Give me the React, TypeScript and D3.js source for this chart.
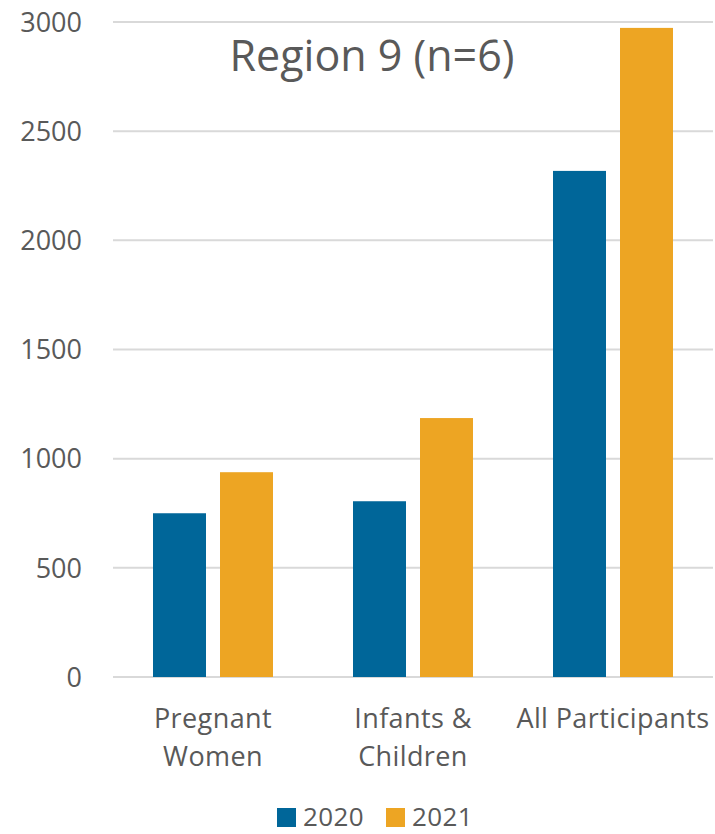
import React from "react";
import * as d3 from "d3";

const categories: string[][] = [["Pregnant", "Women"], ["Infants &", "Children"], ["All Participants"]];
const seriesNames = ["2020", "2021"];
const values2020 = [750, 805, 2318];
const values2021 = [938, 1186, 2973];
const yTicks = [0, 500, 1000, 1500, 2000, 2500, 3000];
const title = "Region 9 (n=6)";

const colors = ["#006699", "#EDA523"];
const textColor = "#595959";
const font = "'Open Sans', sans-serif";

export default function App() {
  const W = 715, H = 834;
  const left = 113, right = 713, top = 22, bottom = 677;
  const x = d3.scaleBand<number>().domain(d3.range(categories.length)).range([left, right]).paddingInner(0).paddingOuter(0);
  const y = d3.scaleLinear().domain([0, 3000]).range([bottom, top]);
  const bw = x.bandwidth();
  const sub = d3.scaleBand<number>().domain([0, 1]).range([40, bw - 40]).paddingInner(14 / 67);
  const series = [values2020, values2021];

  return (
    <svg width={W} height={H} style={{ position: "absolute", left: 0, top: 0, background: "#fff" }} fontFamily={font}>
      {yTicks.map((t) => (
        <g key={t}>
          <line x1={left} x2={right} y1={y(t)} y2={y(t)} stroke="#D9D9D9" strokeWidth={2} />
          <text x={82} y={y(t)} dy="0.36em" textAnchor="end" fontSize={27} fill={textColor}>{t}</text>
        </g>
      ))}
      {series.map((vals, si) =>
        vals.map((v, ci) => (
          <rect key={`${si}-${ci}`} x={(x(ci) as number) + (sub(si) as number)} y={y(v)} width={sub.bandwidth()} height={y(0) - y(v)} fill={colors[si]} />
        ))
      )}
      <text x={372} y={71} textAnchor="middle" fontSize={43} fill={textColor}>{title}</text>
      {categories.map((lines, ci) => (
        <text key={ci} textAnchor="middle" fontSize={27} fill={textColor} letterSpacing={0.4}>
          {lines.map((l, li) => (
            <tspan key={li} x={(x(ci) as number) + bw / 2} y={728 + li * 38}>{l}</tspan>
          ))}
        </text>
      ))}
      {seriesNames.map((s, i) => (
        <g key={s} transform={`translate(${277 + i * 109},0)`}>
          <rect x={0} y={808} width={19} height={19} fill={colors[i]} />
          <text x={26} y={826} fontSize={26} fill={textColor} letterSpacing={0.4}>{s}</text>
        </g>
      ))}
    </svg>
  );
}
